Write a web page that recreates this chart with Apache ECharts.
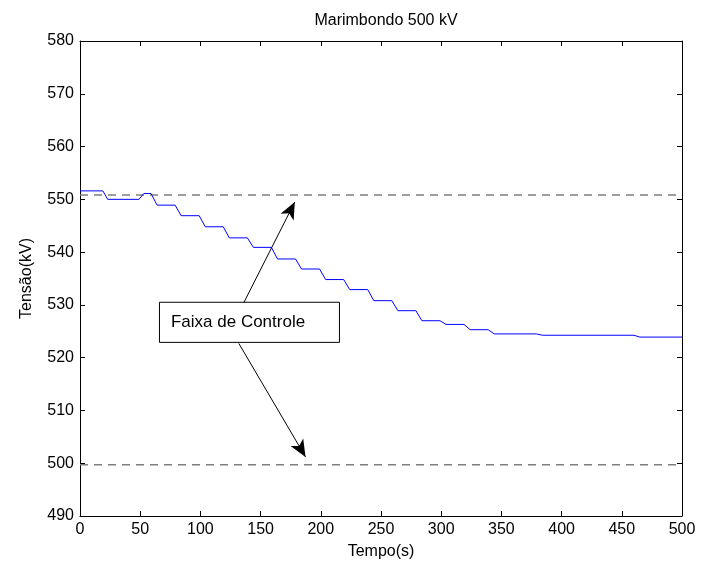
<!DOCTYPE html>
<html>
<head>
<meta charset="utf-8">
<script src="https://cdn.jsdelivr.net/npm/echarts@6/dist/echarts.min.js"></script>
<style>html,body{margin:0;padding:0;background:#fff}#c{width:701px;height:568px}</style>
</head>
<body>
<div id="c"></div>
<script>
// ---- data ----
var time = [0, 19, 23, 49, 53, 59, 64, 79, 84, 99, 104, 119, 124, 139, 144, 159, 164, 179, 184, 199, 204, 219, 224, 239, 244, 259, 264, 279, 284, 299, 304, 319, 324, 339, 344, 379, 384, 460, 465, 500];
var voltage = [551.6, 551.6, 550.0, 550.0, 551.1, 551.1, 548.9, 548.9, 546.9, 546.9, 544.8, 544.8, 542.7, 542.7, 540.9, 540.9, 538.7, 538.7, 536.8, 536.8, 534.8, 534.8, 532.9, 532.9, 530.8, 530.8, 528.9, 528.9, 527.0, 527.0, 526.3, 526.3, 525.3, 525.3, 524.5, 524.5, 524.25, 524.25, 523.9, 523.9];
var upperLimit = 550.8;
var lowerLimit = 499.7;
var xRange = [0, 500];
var yRange = [490, 580];
var titleText = 'Marimbondo 500 kV';
var xName = 'Tempo(s)';
var yName = 'Tensão(kV)';
var annotationText = 'Faixa de Controle';
// annotation geometry in data coordinates
var boxCorners = [[66, 530.5], [215.5, 522.9]];
var arrowUp = [[136, 530.4], [178.4, 549.5]];
var arrowDown = [[131.9, 522.7], [187.3, 501.2]];

var font = 'Liberation Sans, Arial, Helvetica, sans-serif';
var chart = echarts.init(document.getElementById('c'), null, {renderer: 'canvas'});
var lineData = time.map(function (t, i) { return [t, voltage[i]]; });

var axisCommon = {
  axisLine: {show: true, onZero: false, lineStyle: {color: '#000', width: 1}},
  axisTick: {show: true, inside: true, length: 5, lineStyle: {color: '#000'}},
  splitLine: {show: false}
};

chart.setOption({
  animation: false,
  backgroundColor: '#fff',
  title: {
    text: titleText, left: 381, top: 8, textAlign: 'center',
    textStyle: {fontFamily: font, fontSize: 16, fontWeight: 'normal', color: '#000'}
  },
  grid: {left: 80, right: 19, top: 41, bottom: 52, containLabel: false},
  xAxis: [
    Object.assign({
      type: 'value', min: xRange[0], max: xRange[1], interval: 50, position: 'bottom',
      name: xName, nameLocation: 'middle', nameGap: 28,
      nameTextStyle: {fontFamily: font, fontSize: 16, color: '#000'},
      axisLabel: {fontFamily: font, fontSize: 16, color: '#000', margin: 6}
    }, axisCommon),
    Object.assign({
      type: 'value', min: xRange[0], max: xRange[1], interval: 50, position: 'top',
      axisLabel: {show: false}
    }, axisCommon)
  ],
  yAxis: [
    Object.assign({
      type: 'value', min: yRange[0], max: yRange[1], interval: 10, position: 'left',
      name: yName, nameLocation: 'middle', nameGap: 45,
      nameTextStyle: {fontFamily: font, fontSize: 16, color: '#000'},
      axisLabel: {fontFamily: font, fontSize: 16, color: '#000', margin: 6}
    }, axisCommon),
    Object.assign({
      type: 'value', min: yRange[0], max: yRange[1], interval: 10, position: 'right',
      axisLabel: {show: false}
    }, axisCommon)
  ],
  series: [
    {
      type: 'line', data: [[xRange[0], upperLimit], [xRange[1], upperLimit]],
      symbol: 'none', lineStyle: {color: '#7f7f7f', width: 1.5, type: [8, 6]}, z: 2
    },
    {
      type: 'line', data: [[xRange[0], lowerLimit], [xRange[1], lowerLimit]],
      symbol: 'none', lineStyle: {color: '#7f7f7f', width: 1.5, type: [8, 6]}, z: 2
    },
    {
      type: 'line', data: lineData, symbol: 'none',
      lineStyle: {color: '#0000ff', width: 1}, z: 3,
      markArea: {
        silent: true,
        itemStyle: {color: '#fff', borderColor: '#000', borderWidth: 1},
        label: {show: true, position: 'insideLeft', distance: 12, fontFamily: font, fontSize: 17, color: '#000'},
        data: [[{coord: boxCorners[0], name: annotationText}, {coord: boxCorners[1]}]]
      },
      markLine: {
        silent: true, symbol: ['none', 'arrow'], symbolSize: [11, 17],
        label: {show: false},
        lineStyle: {color: '#000', width: 1, type: 'solid'},
        data: [
          [{coord: arrowUp[0]}, {coord: arrowUp[1]}],
          [{coord: arrowDown[0]}, {coord: arrowDown[1]}]
        ]
      }
    }
  ]
});
</script>
</body>
</html>
